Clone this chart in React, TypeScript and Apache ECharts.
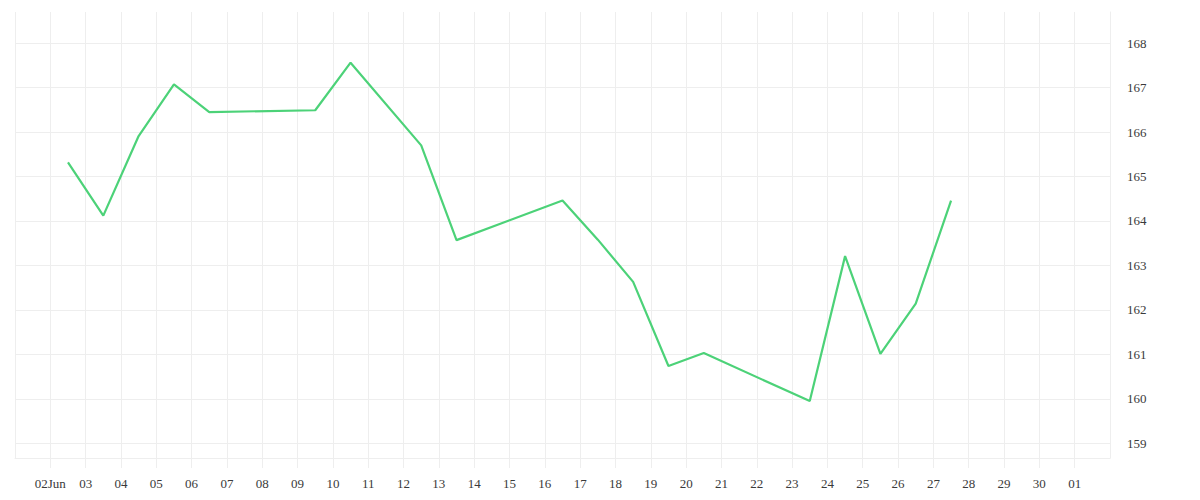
import React, { useEffect, useRef } from "react";
import * as echarts from "echarts";

// trading days (June 2025), each plotted at mid-day
const dates = [
  "2025-06-02", "2025-06-03", "2025-06-04", "2025-06-05", "2025-06-06",
  "2025-06-09", "2025-06-10", "2025-06-12", "2025-06-13",
  "2025-06-16", "2025-06-17", "2025-06-18", "2025-06-19", "2025-06-20",
  "2025-06-23", "2025-06-24", "2025-06-25", "2025-06-26", "2025-06-27",
];
const prices = [
  165.32, 164.12, 165.91, 167.07, 166.45,
  166.49, 167.56, 165.70, 163.57,
  164.46, 163.58, 162.63, 160.74, 161.03,
  159.95, 163.21, 161.01, 162.14, 164.46,
];
const yTicks = [159, 160, 161, 162, 163, 164, 165, 166, 167, 168];
const yMin = 158.67;
const yMax = 168.7;

// x axis: day number counted from June (Jul 1 = 31)
const xMin = 1;
const xMax = 32;

const pad = (n: number) => (n < 10 ? "0" + n : "" + n);

function dayNumber(d: string): number {
  const [, m, day] = d.split("-").map(Number);
  return (m === 6 ? day : 30 + day) + 0.5;
}

export default function App() {
  const ref = useRef<HTMLDivElement>(null);
  useEffect(() => {
    if (!ref.current) return;
    const chart = echarts.init(ref.current, undefined, { renderer: "svg" });
    const gridColor = "#eeeeee";
    const labelStyle = {
      color: "#3a3a3a",
      fontFamily: "serif",
      fontSize: 13,
    };
    const splitColors = [
      ...yTicks.map(() => gridColor),
      gridColor,
      "rgba(0,0,0,0)",
    ];
    chart.setOption({
      animation: false,
      grid: { left: 7, right: 82, top: 4, bottom: 34, containLabel: false },
      xAxis: {
        type: "value",
        min: xMin,
        max: xMax,
        interval: 1,
        axisLine: { show: true, lineStyle: { color: gridColor, width: 1 } },
        axisTick: { show: true, length: 10, lineStyle: { color: gridColor } },
        splitLine: { show: true, lineStyle: { color: gridColor, width: 1 } },
        axisLabel: {
          ...labelStyle,
          margin: 19,
          showMinLabel: false,
          showMaxLabel: false,
          formatter: (v: number) => {
            if (v === 2) return "02Jun";
            return v <= 30 ? pad(v) : pad(v - 30);
          },
        },
      },
      yAxis: {
        type: "value",
        position: "right",
        min: yMin,
        max: yMax,
        splitNumber: 10,
        axisLine: { show: true, lineStyle: { color: gridColor } },
        axisTick: { show: false },
        splitLine: { show: true, lineStyle: { color: splitColors, width: 1 } },
        axisLabel: {
          ...labelStyle,
          margin: 17,
          showMinLabel: false,
          showMaxLabel: false,
          formatter: (v: number) => (Number.isInteger(v) ? String(v) : ""),
        },
      },
      series: [
        {
          type: "line",
          data: dates.map((d, i) => [dayNumber(d), prices[i]]),
          showSymbol: false,
          symbol: "none",
          lineStyle: { color: "#4cd278", width: 2.2 },
          itemStyle: { color: "#4cd278" },
        },
      ],
    });
    return () => chart.dispose();
  }, []);
  return <div ref={ref} style={{ width: 1184, height: 484 }} />;
}
